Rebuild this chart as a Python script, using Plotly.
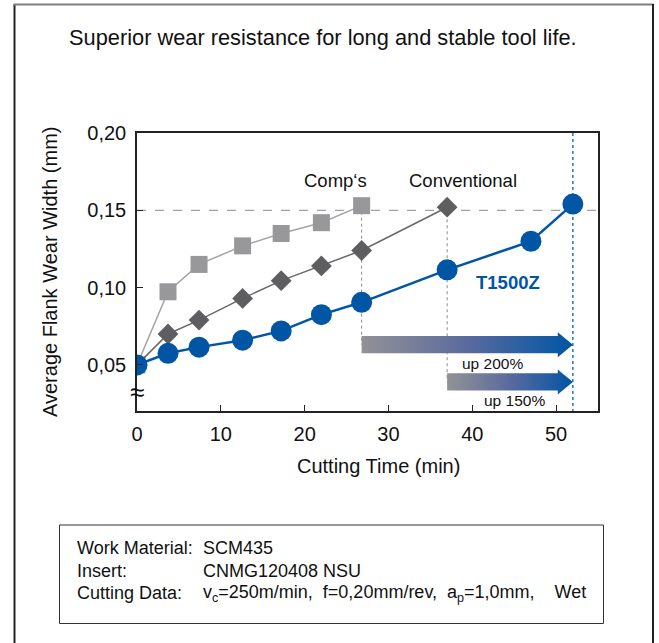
import plotly.graph_objects as go

# ---- data ----
t1500z_x = [0, 3.7, 7.4, 12.6, 17.2, 22.0, 26.8, 37.0, 47.0, 52.0]
t1500z_y = [0.050, 0.0575, 0.0615, 0.066, 0.072, 0.0825, 0.0905, 0.1115, 0.130, 0.154]

comps_x = [0, 3.7, 7.4, 12.6, 17.2, 22.0, 26.8]
comps_y = [0.050, 0.0973, 0.115, 0.127, 0.135, 0.142, 0.153]

conv_x = [0, 3.7, 7.4, 12.6, 17.2, 22.0, 26.8, 37.0]
conv_y = [0.050, 0.070, 0.079, 0.093, 0.1045, 0.114, 0.124, 0.152]

wear_limit = 0.15
y_ticks = [0.05, 0.10, 0.15, 0.20]
y_tick_labels = ["0,05", "0,10", "0,15", "0,20"]
x_ticks = [0, 10, 20, 30, 40, 50]
x_tick_labels = ["0", "10", "20", "30", "40", "50"]

arrow_labels = ["up 200%", "up 150%"]
arrow_levels = [0.0631, 0.0390]

BLUE = "#0055a5"
LGRAY = "#98989b"
DGRAY = "#5e5e60"
FONT = "Liberation Sans, Arial, sans-serif"

fig = go.Figure()

x_end = t1500z_x[-1]
y_top, y_bot = 0.20, 0.0202

# reference lines
fig.add_trace(go.Scatter(x=[0, 55], y=[wear_limit, wear_limit], mode="lines",
                         line=dict(color="#8a8a8a", width=1, dash="dash"), hoverinfo="skip"))
fig.add_trace(go.Scatter(x=[comps_x[-1], comps_x[-1]], y=[comps_y[-1], arrow_levels[0]], mode="lines",
                         line=dict(color="#8a8a8a", width=1, dash="dot"), hoverinfo="skip"))
fig.add_trace(go.Scatter(x=[conv_x[-1], conv_x[-1]], y=[conv_y[-1], arrow_levels[1]], mode="lines",
                         line=dict(color="#8a8a8a", width=1, dash="dot"), hoverinfo="skip"))
fig.add_trace(go.Scatter(x=[x_end, x_end], y=[y_top, y_bot], mode="lines",
                         line=dict(color="#1a78c8", width=1.5, dash="dot"), hoverinfo="skip"))

# gradient arrows
body_h = 0.0056
head_h = 0.0081
head_len = 1.8
for start, lvl in zip([comps_x[-1], conv_x[-1]], arrow_levels):
    hx = x_end - head_len
    xs = [start, hx, hx, x_end, hx, hx, start, start]
    ys = [lvl - body_h, lvl - body_h, lvl - head_h, lvl, lvl + head_h, lvl + body_h, lvl + body_h, lvl - body_h]
    fig.add_trace(go.Scatter(x=xs, y=ys, mode="lines", fill="toself",
                             line=dict(width=0, color="rgba(0,0,0,0)"),
                             fillgradient=dict(type="horizontal",
                                               colorscale=[[0, "#929296"], [0.5, "#5a6a9e"], [1, BLUE]]),
                             hoverinfo="skip"))

# series
fig.add_trace(go.Scatter(x=comps_x, y=comps_y, mode="lines+markers", name="Comp's",
                         line=dict(color="#a4a4a6", width=1.5),
                         marker=dict(symbol="square", size=17, color=LGRAY)))
fig.add_trace(go.Scatter(x=conv_x, y=conv_y, mode="lines+markers", name="Conventional",
                         line=dict(color="#68686a", width=1.5),
                         marker=dict(symbol="diamond", size=16, color=DGRAY)))
fig.add_trace(go.Scatter(x=t1500z_x, y=t1500z_y, mode="lines+markers", name="T1500Z",
                         line=dict(color=BLUE, width=2.5),
                         marker=dict(symbol="circle", size=21, color=BLUE)))

ann = []
ann.append(dict(x=23.7, y=0.1696, text="Comp‘s", showarrow=False, font=dict(size=18.5, color="#111")))
ann.append(dict(x=38.9, y=0.1696, text="Conventional", showarrow=False, font=dict(size=18.5, color="#111")))
ann.append(dict(x=44.3, y=0.1036, text="<b>T1500Z</b>", showarrow=False, font=dict(size=18.5, color=BLUE)))
ann.append(dict(x=42.4, y=0.0511, text=arrow_labels[0], showarrow=False, font=dict(size=15.5, color="#111")))
ann.append(dict(x=45.0, y=0.0267, text=arrow_labels[1], showarrow=False, font=dict(size=15.5, color="#111")))
ann.append(dict(x=0, y=0.0325, text="≈", showarrow=False, font=dict(size=26, color="#111")))


def px(x):
    return (x - 137) / 461


def py(y):
    return (411 - y) / 278


ann.append(dict(xref="paper", yref="paper", x=px(67), y=py(38), xanchor="left", yanchor="middle",
                text="Superior wear resistance for long and stable tool life.", showarrow=False,
                font=dict(size=21.8, color="#111")))
ann.append(dict(xref="paper", yref="paper", x=px(50), y=py(272), xanchor="center", yanchor="middle",
                text="Average Flank Wear Width (mm)", textangle=-90, showarrow=False,
                font=dict(size=20, color="#111")))
ann.append(dict(xref="paper", yref="paper", x=px(378), y=py(466), xanchor="center", yanchor="middle",
                text="Cutting Time (min)", showarrow=False,
                font=dict(size=20, color="#111")))
rows = [("Work Material:", "SCM435"), ("Insert:", "CNMG120408 NSU"),
        ("Cutting Data:", "v<sub>c</sub>=250m/min,  f=0,20mm/rev,  a<sub>p</sub>=1,0mm,    Wet")]
for i, (a, b) in enumerate(rows):
    yy = py(548 + 22.5 * i)
    ann.append(dict(xref="paper", yref="paper", x=px(75), y=yy, xanchor="left", yanchor="middle",
                    text=a, showarrow=False, font=dict(size=18, color="#111")))
    ann.append(dict(xref="paper", yref="paper", x=px(201), y=yy, xanchor="left", yanchor="middle",
                    text=b, showarrow=False, font=dict(size=18, color="#111")))

shapes = [
    dict(type="line", xref="paper", yref="paper", x0=px(14.5), x1=px(14.5), y0=py(4), y1=py(643),
         line=dict(color="#222", width=2)),
    dict(type="line", xref="paper", yref="paper", x0=px(14), x1=px(653.5), y0=py(4.5), y1=py(4.5),
         line=dict(color="#808080", width=2)),
    dict(type="line", xref="paper", yref="paper", x0=px(653), x1=px(653), y0=py(4), y1=py(643),
         line=dict(color="#222", width=2)),
    dict(type="rect", xref="paper", yref="paper", x0=px(59.5), x1=px(603.5), y0=py(623.5), y1=py(525),
         line=dict(color="#333", width=1), fillcolor="rgba(0,0,0,0)"),
]

fig.update_layout(
    width=659, height=643,
    margin=dict(l=137, r=61, t=133, b=232, autoexpand=False),
    paper_bgcolor="white", plot_bgcolor="white",
    showlegend=False,
    font=dict(family=FONT, color="#111"),
    annotations=ann, shapes=shapes,
)
fig.update_xaxes(range=[0, 55], tickvals=x_ticks, ticktext=x_tick_labels, ticks="inside", ticklen=6,
                 tickcolor="#222", showline=True, linecolor="#222", linewidth=1.5, mirror=True,
                 showgrid=False, zeroline=False, tickfont=dict(size=20), automargin=False,
                 ticklabelstandoff=4)
fig.update_yaxes(range=[y_bot, y_top], tickvals=y_ticks, ticktext=y_tick_labels, ticks="inside", ticklen=6,
                 tickcolor="#222", showline=True, linecolor="#222", linewidth=1.5, mirror=True,
                 showgrid=False, zeroline=False, tickfont=dict(size=20), automargin=False,
                 ticklabelstandoff=5)

fig.write_html("out.html", config={"displayModeBar": False},
               post_script="document.body.style.margin='0px';")
